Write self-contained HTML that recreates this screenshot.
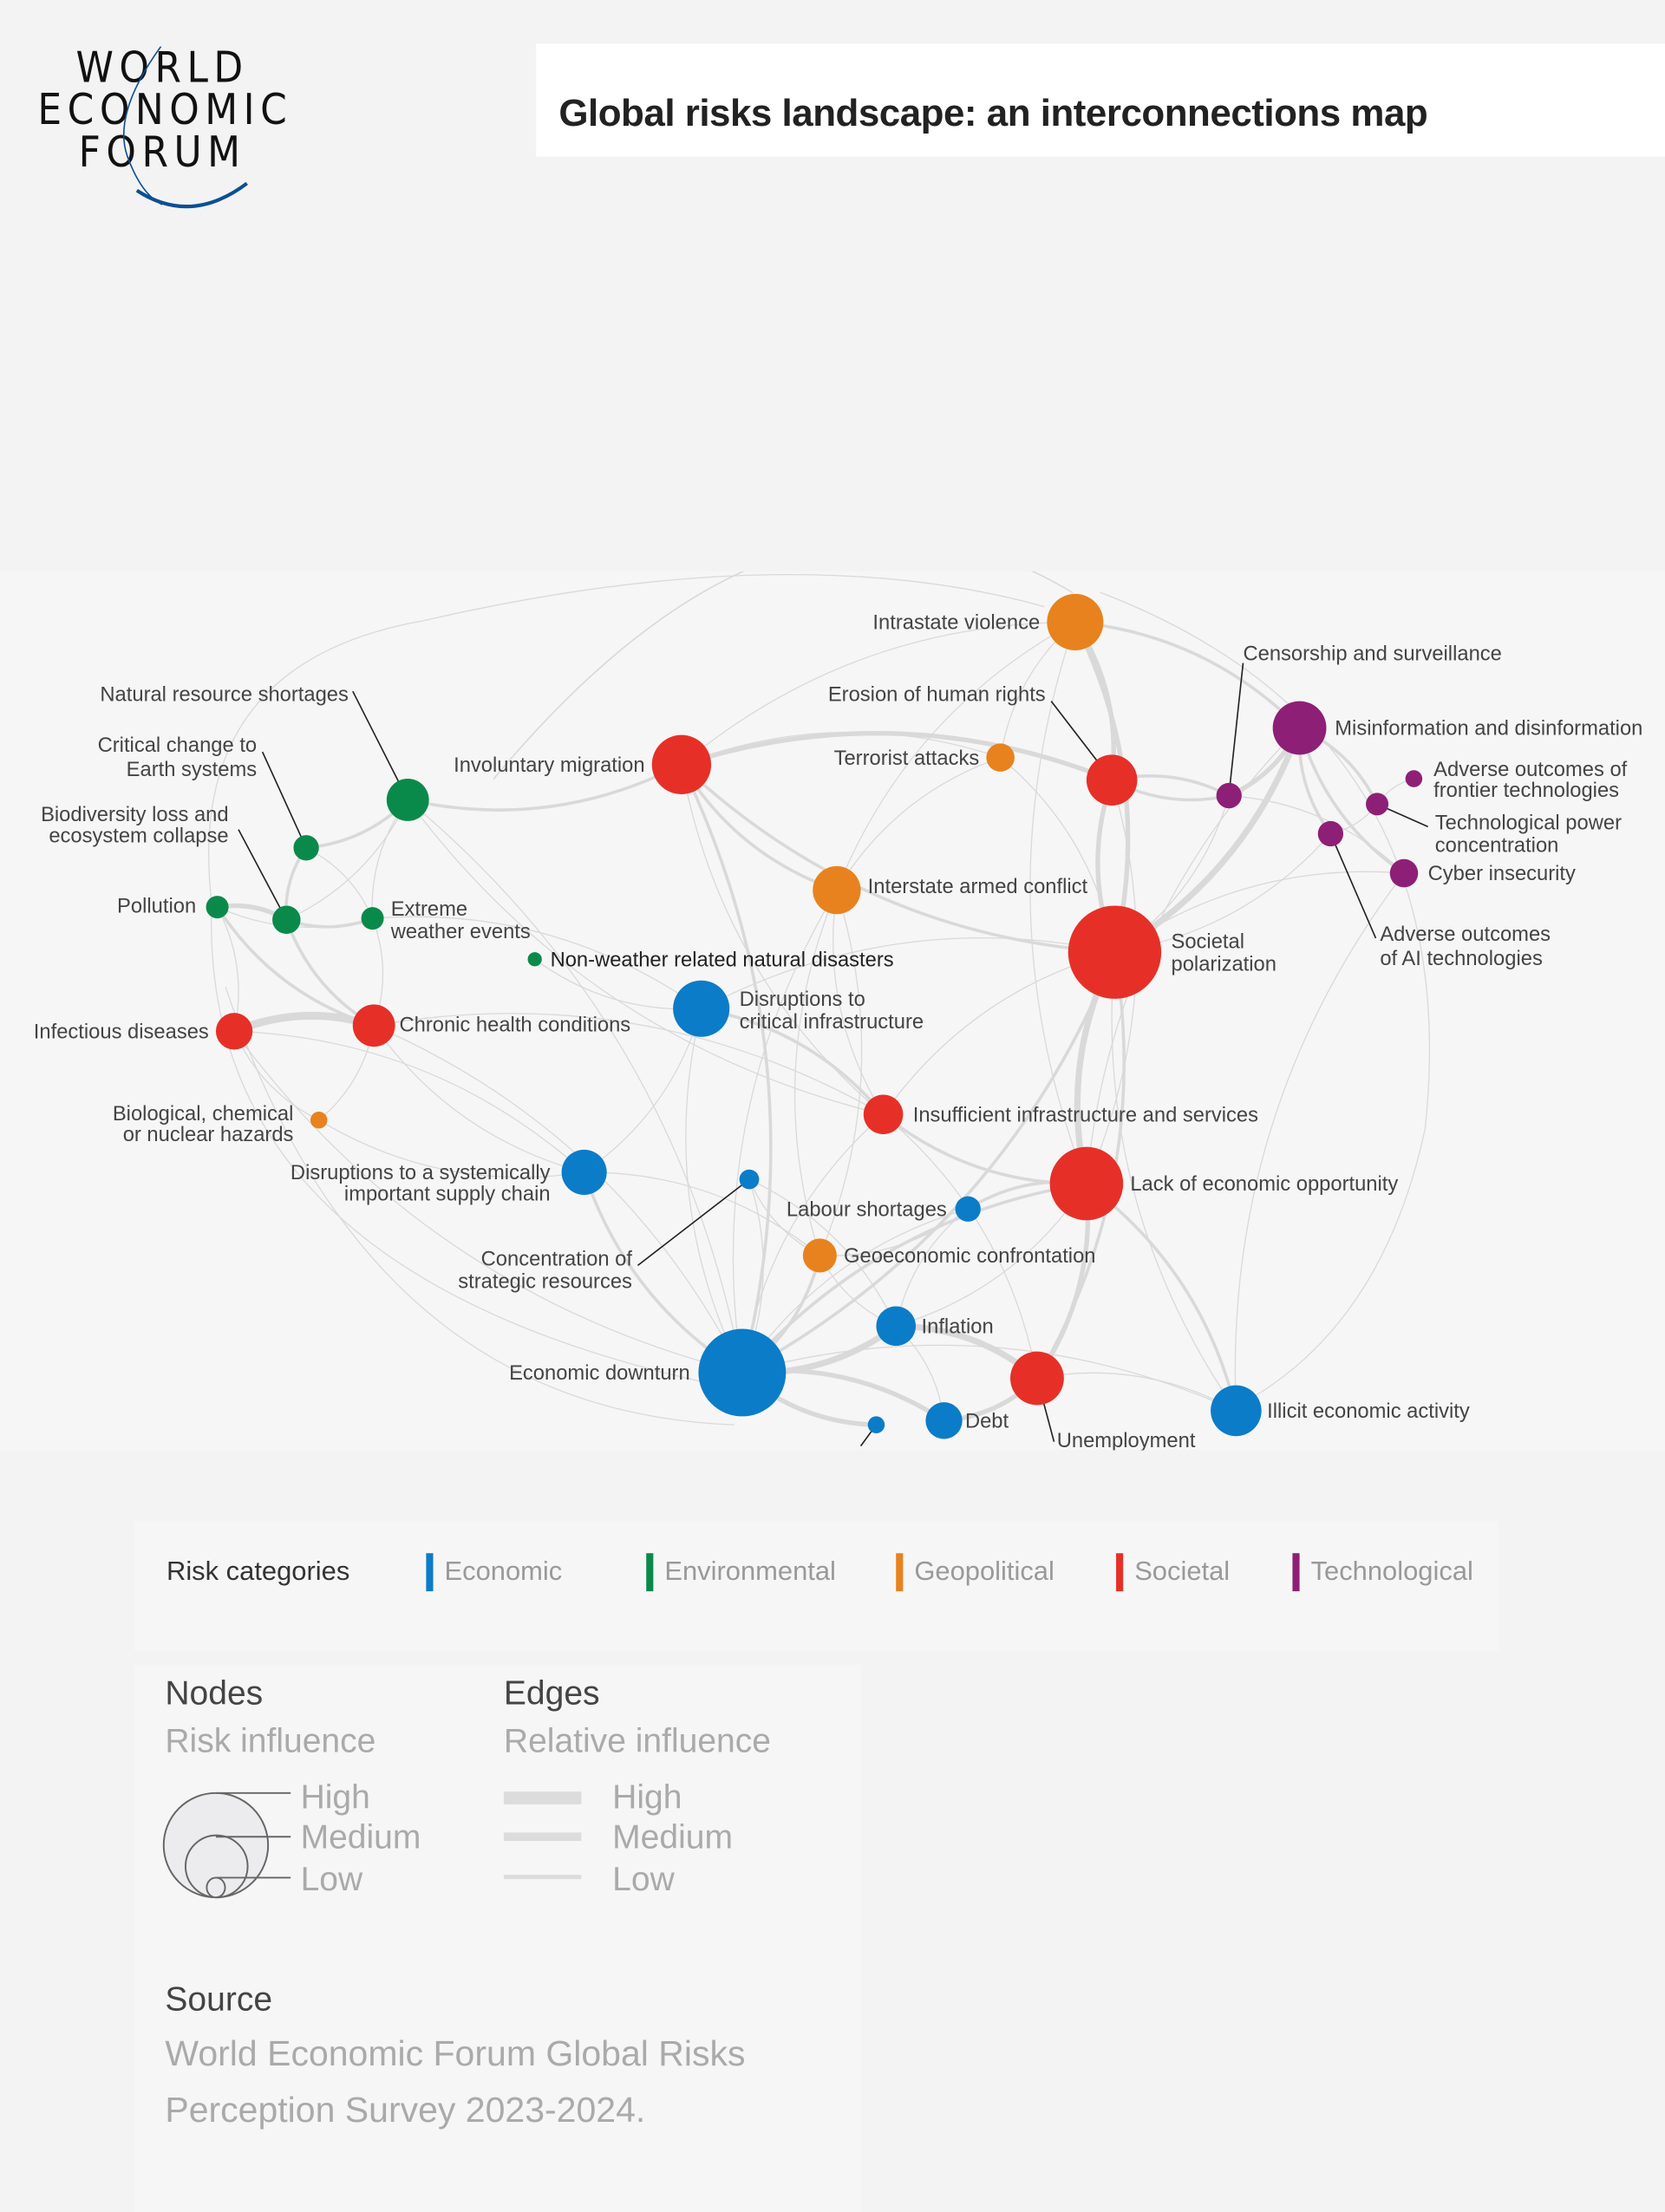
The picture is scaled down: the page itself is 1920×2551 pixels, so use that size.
<!DOCTYPE html>
<html><head><meta charset="utf-8">
<style>
html,body{margin:0;padding:0;background:#f3f3f3;}
body{width:1920px;height:2551px;overflow:hidden;}
svg{display:block;font-family:"Liberation Sans",Arial,sans-serif;}
</style></head>
<body>
<svg id="s" width="1920" height="2551" viewBox="0 0 1180 1568" preserveAspectRatio="none" xmlns="http://www.w3.org/2000/svg">
<defs><clipPath id="cp"><rect x="0" y="405" width="1180" height="623"/></clipPath></defs>
<rect x="0" y="0" width="1180" height="1568" fill="#f3f3f3"/>
<!-- logo -->
<g font-family="'DejaVu Sans Condensed','Liberation Sans Narrow','Liberation Sans',sans-serif" fill="#111" font-size="30" text-anchor="middle">
<text x="115" y="58" letter-spacing="4">WORLD</text>
<text x="117" y="88" letter-spacing="4">ECONOMIC</text>
<text x="115" y="118" letter-spacing="4">FORUM</text>
</g>
<path d="M114 33 Q80 80 90 110 Q100 138 115 145" fill="none" stroke="#0b4f94" stroke-width="1"/>
<path d="M97 135 Q135 160 175 130" fill="none" stroke="#0b4f94" stroke-width="2.5"/>
<!-- title -->
<rect x="380" y="31" width="800" height="80" fill="#fff"/>
<text x="396" y="89" font-size="27" font-weight="bold" fill="#222" letter-spacing="-0.3">Global risks landscape: an interconnections map</text>
<!-- chart bg -->
<rect x="0" y="405" width="1180" height="625" fill="#f6f6f6"/>
<g id="edges" fill="none" stroke="#d9d9d9" stroke-linecap="round" clip-path="url(#cp)">
<path d="M350 552 Q560 300 760 420" stroke-width="1"/>
<path d="M150 640 Q130 470 300 440 Q560 380 740 430" stroke-width="0.8"/>
<path d="M780 420 Q1040 520 1010 800 Q980 940 880 995" stroke-width="0.8"/>
<path d="M150 640 Q140 900 500 980" stroke-width="0.8"/>
<path d="M160 700 Q260 1000 520 1010" stroke-width="0.8"/>
</g>
<g id="leaders" stroke="#222" stroke-width="1" fill="none">
<line x1="250" y1="490" x2="289" y2="567"/>
<line x1="186" y1="533" x2="217" y2="601"/>
<line x1="169" y1="588" x2="203" y2="652"/>
<line x1="745" y1="497" x2="788" y2="553"/>
<line x1="881" y1="470" x2="871" y2="563"/>
<line x1="976" y1="570" x2="1012" y2="586"/>
<line x1="943" y1="591" x2="975" y2="665"/>
<line x1="452" y1="897" x2="531" y2="836"/>
<line x1="735" y1="977" x2="747" y2="1022"/>
<line x1="621" y1="1010" x2="610" y2="1025"/>
</g>
<g id="nodes"></g>
<g font-size="14.6" fill="#444">
<text x="737" y="446" text-anchor="end">Intrastate violence</text>
<text x="881" y="468">Censorship and surveillance</text>
<text x="946" y="521">Misinformation and disinformation</text>
<text x="1016" y="550">Adverse outcomes of</text>
<text x="1016" y="565">frontier technologies</text>
<text x="1017" y="588">Technological power</text>
<text x="1017" y="604">concentration</text>
<text x="1012" y="624">Cyber insecurity</text>
<text x="978" y="667">Adverse outcomes</text>
<text x="978" y="684">of AI technologies</text>
<text x="741" y="497" text-anchor="end">Erosion of human rights</text>
<text x="694" y="542" text-anchor="end">Terrorist attacks</text>
<text x="457" y="547" text-anchor="end">Involuntary migration</text>
<text x="247" y="497" text-anchor="end">Natural resource shortages</text>
<text x="182" y="533" text-anchor="end">Critical change to</text>
<text x="182" y="550" text-anchor="end">Earth systems</text>
<text x="162" y="582" text-anchor="end">Biodiversity loss and</text>
<text x="162" y="597" text-anchor="end">ecosystem collapse</text>
<text x="139" y="647" text-anchor="end">Pollution</text>
<text x="277" y="649">Extreme</text>
<text x="277" y="665">weather events</text>
<text x="390" y="685" fill="#222">Non-weather related natural disasters</text>
<text x="615" y="633">Interstate armed conflict</text>
<text x="830" y="672">Societal</text>
<text x="830" y="688">polarization</text>
<text x="524" y="713">Disruptions to</text>
<text x="524" y="729">critical infrastructure</text>
<text x="148" y="736" text-anchor="end">Infectious diseases</text>
<text x="283" y="731">Chronic health conditions</text>
<text x="208" y="794" text-anchor="end">Biological, chemical</text>
<text x="208" y="809" text-anchor="end">or nuclear hazards</text>
<text x="647" y="795">Insufficient infrastructure and services</text>
<text x="390" y="836" text-anchor="end">Disruptions to a systemically</text>
<text x="390" y="851" text-anchor="end">important supply chain</text>
<text x="801" y="844">Lack of economic opportunity</text>
<text x="671" y="862" text-anchor="end">Labour shortages</text>
<text x="598" y="895">Geoeconomic confrontation</text>
<text x="448" y="897" text-anchor="end">Concentration of</text>
<text x="448" y="913" text-anchor="end">strategic resources</text>
<text x="653" y="945">Inflation</text>
<text x="489" y="978" text-anchor="end">Economic downturn</text>
<text x="684" y="1012">Debt</text>
<text x="749" y="1026">Unemployment</text>
<text x="898" y="1005">Illicit economic activity</text>
</g>
<rect x="0" y="1028" width="1180" height="6" fill="#f3f3f3"/>
<!-- legend -->
<rect x="95" y="1078" width="967" height="92" fill="#f6f6f6"/>
<text x="118" y="1120" font-size="19" fill="#333">Risk categories</text>
<g font-size="19" fill="#999">
<rect x="302" y="1101" width="5" height="27" fill="#0b7cc8"/><text x="315" y="1120">Economic</text>
<rect x="458" y="1101" width="5" height="27" fill="#0a8a4a"/><text x="471" y="1120">Environmental</text>
<rect x="635" y="1101" width="5" height="27" fill="#e8821e"/><text x="648" y="1120">Geopolitical</text>
<rect x="791" y="1101" width="5" height="27" fill="#e63027"/><text x="804" y="1120">Societal</text>
<rect x="916" y="1101" width="5" height="27" fill="#8e1f77"/><text x="929" y="1120">Technological</text>
</g>
<rect x="95" y="1180" width="515" height="388" fill="#f6f6f6"/>
<g font-size="24">
<text x="117" y="1208" fill="#444">Nodes</text>
<text x="117" y="1242" fill="#aaa">Risk influence</text>
<text x="357" y="1208" fill="#444">Edges</text>
<text x="357" y="1242" fill="#aaa">Relative influence</text>
<text x="213" y="1282" fill="#aaa">High</text>
<text x="213" y="1310" fill="#aaa">Medium</text>
<text x="213" y="1340" fill="#aaa">Low</text>
<text x="434" y="1282" fill="#aaa">High</text>
<text x="434" y="1310" fill="#aaa">Medium</text>
<text x="434" y="1340" fill="#aaa">Low</text>
<text x="117" y="1425" fill="#444">Source</text>
</g>
<g font-size="25.2" fill="#aaa">
<text x="117" y="1464">World Economic Forum Global Risks</text>
<text x="117" y="1504">Perception Survey 2023-2024.</text>
</g>
<g fill="#ececee" stroke="#666" stroke-width="1.2">
<ellipse cx="153" cy="1308" rx="37" ry="37"/>
<ellipse cx="153.5" cy="1323" rx="22" ry="22"/>
<ellipse cx="153" cy="1338" rx="6.5" ry="7"/>
</g>
<g stroke="#666" stroke-width="1.2">
<line x1="153" y1="1271" x2="206" y2="1271"/>
<line x1="153" y1="1302" x2="206" y2="1302"/>
<line x1="153" y1="1331" x2="206" y2="1331"/>
</g>
<rect x="357" y="1270" width="55" height="9" fill="#dcdcdc"/>
<rect x="357" y="1299" width="55" height="6" fill="#dcdcdc"/>
<rect x="357" y="1329" width="55" height="3" fill="#dcdcdc"/>
</svg>
<script>
var B="#0b7cc8",G="#0a8a4a",O="#e8821e",R="#e63027",P="#8e1f77";
var N={
iv:[762,441,20,O],cs:[871,564,9,P],mi:[921,516,19,P],af:[1002,552,6,P],tp:[976,570,8,P],ai:[943,591,9,P],cy:[995,619,10,P],
eh:[788,553,18,R],ta:[709,537,10,O],im:[483,542,21,R],nr:[289,567,15,G],cc:[217,601,9,G],bd:[203,652,10,G],po:[154,643,8,G],
ew:[264,651,8,G],nw:[379,680,5,G],ia:[593,631,17,O],sp:[790,675,33,R],dc:[497,715,20,B],id:[166,731,13,R],ch:[265,727,15,R],
bc:[226,794,6,O],ii:[626,790,14,R],ds:[414,831,16,B],cr:[531,836,7,B],le:[770,839,26,R],ls:[686,857,9,B],ge:[581,890,12,O],
in:[635,940,14,B],ed:[526,973,31,B],un:[735,977,19,R],de:[669,1007,13,B],sb:[621,1010,6,B],il:[876,1000,18,B]};
var E=[["id","ch",5],["ed","in",4],["ed","de",3],["ed","sb",3],["in","un",4],["de","un",3],["le","un",3],["sp","le",4],["sp","eh",3],
["sp","mi",4],["mi","cs",3],["mi","cy",2],["mi","tp",2],["mi","ai",2],["cs","eh",2],["eh","iv",3],["iv","sp",3],["iv","ta",1],["iv","mi",2],["iv","ia",1],
["im","eh",3],["im","ia",2],["im","ed",2],["im","sp",2],["im","iv",1],["nr","im",2],["nr","cc",2],["cc","bd",2],["po","bd",3],["bd","ew",2],["cc","ew",1],
["nr","ew",1],["nr","bd",1],["po","ch",2],["po","id",1],["bd","ch",2],["ew","ch",1],["id","bc",1],["ch","bc",1],["ch","ds",1],["ew","dc",1],["nw","dc",1],
["dc","ii",2],["dc","ed",1],["dc","ds",1],["ds","ed",2],["ds","ge",1],["cr","ge",1],["cr","ed",1],["ii","le",2],["ii","sp",1],["ii","ed",1],["ls","le",2],
["ls","ed",1],["ge","ed",2],["ge","in",1],["ge","ia",1],["ia","ii",1],["le","il",2],["sp","il",1],["un","il",1],["il","ed",1],["in","de",1],["le","ed",2],
["sp","ed",2],["sp","dc",1],["ta","sp",1],["ta","im",1],["eh","cs",2],["cy","il",1],["ai","sp",1],["cy","sp",1],["tp","af",1],["ai","tp",1],["cs","cy",1],
["id","ed",1],["ch","ed",1],["po","ew",1],["nr","ed",1],["nr","ii",1],["ia","ge",1],["iv","le",1],["eh","le",1],["un","ii",1],["ls","ge",1],["ls","in",1],
["cr","in",1],["im","ii",1],["ch","ii",1],["bc","ds",1],["id","ds",1],["ia","ed",1],["le","in",1],["ta","ia",1],["sp","un",2],["mi","le",1],["cs","sp",1]];
var ns="http://www.w3.org/2000/svg",eg=document.getElementById("edges"),ng=document.getElementById("nodes");
E.forEach(function(e,i){var a=N[e[0]],b=N[e[1]];if(!a||!b)return;var dx=b[0]-a[0],dy=b[1]-a[1],k=(i%2?0.18:-0.18);
var cx=(a[0]+b[0])/2-dy*k,cy=(a[1]+b[1])/2+dx*k;var p=document.createElementNS(ns,"path");
p.setAttribute("d","M"+a[0]+" "+a[1]+" Q"+cx+" "+cy+" "+b[0]+" "+b[1]);p.setAttribute("stroke-width",e[2]==1?0.8:e[2]*1.1);eg.appendChild(p);});
for(var k in N){var n=N[k],c=document.createElementNS(ns,"circle");c.setAttribute("cx",n[0]);c.setAttribute("cy",n[1]);c.setAttribute("r",n[2]);c.setAttribute("fill",n[3]);ng.appendChild(c);}
</script>
</body></html>
